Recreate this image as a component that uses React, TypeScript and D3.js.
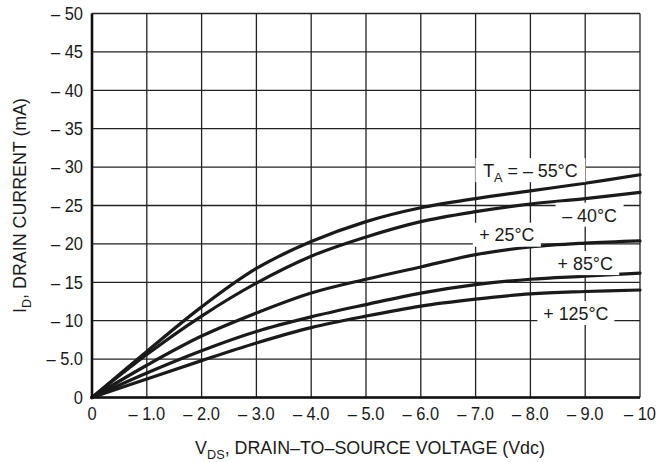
import React from 'react';
import * as d3 from 'd3';

// V_DS in volts (magnitude), I_D in mA (magnitude)
const vds = [0, 1, 2, 3, 4, 5, 6, 7, 8, 9, 10];
const idM55 = [0, 6.0, 11.8, 16.8, 20.3, 22.9, 24.7, 25.9, 26.9, 27.9, 29.0];
const idM40 = [0, 5.6, 10.6, 14.9, 18.4, 20.9, 22.9, 24.2, 25.2, 25.9, 26.7];
const idP25 = [0, 4.2, 8.0, 11.0, 13.6, 15.4, 17.0, 18.6, 19.6, 20.1, 20.4];
const idP85 = [0, 3.2, 6.1, 8.6, 10.5, 12.1, 13.6, 14.7, 15.4, 15.8, 16.2];
const idP125 = [0, 2.4, 4.8, 7.1, 9.1, 10.6, 11.9, 12.8, 13.5, 13.8, 14.0];

const series = [idM55, idM40, idP25, idP85, idP125];

const xTicks = [0, 1, 2, 3, 4, 5, 6, 7, 8, 9, 10];
const xTickLabels = ['0', '– 1.0', '– 2.0', '– 3.0', '– 4.0', '– 5.0', '– 6.0', '– 7.0', '– 8.0', '– 9.0', '– 10'];
const yTicks = [0, 5, 10, 15, 20, 25, 30, 35, 40, 45, 50];
const yTickLabels = ['0', '– 5.0', '– 10', '– 15', '– 20', '– 25', '– 30', '– 35', '– 40', '– 45', '– 50'];

// curve labels, anchored in data units (V, mA)
const labelText = ['= – 55°C', '– 40°C', '+ 25°C', '+ 85°C', '+ 125°C'];
const labelV = [8.0, 9.08, 7.57, 9.0, 8.83];
const labelI = [29.6, 23.8, 21.2, 17.5, 11.0];

const W = 660;
const H = 462;
const margin = { top: 13.5, right: 20, bottom: 64.5, left: 92 };
const FONT = '"Liberation Sans", Arial, sans-serif';
const SX = 0.94; // slightly condensed
const INK = '#1a1a1a';

// text drawn condensed around its anchor point
const T: React.FC<{ x: number; y: number; anchor?: string; size: number; rotate?: number; children: React.ReactNode }> = ({
  x, y, anchor = 'middle', size, rotate = 0, children
}) => (
  <g transform={`translate(${x},${y}) rotate(${rotate}) scale(${SX},1)`}>
    <text textAnchor={anchor} fontSize={size} fill={INK}>{children}</text>
  </g>
);

const App: React.FC = () => {
  const innerW = W - margin.left - margin.right;
  const innerH = H - margin.top - margin.bottom;

  const x = d3.scaleLinear().domain([0, 10]).range([0, innerW]);
  const y = d3.scaleLinear().domain([0, 50]).range([innerH, 0]);

  const line = d3.line<number>()
    .x((_, i) => x(vds[i]))
    .y(d => y(d))
    .curve(d3.curveCatmullRom.alpha(0.5));

  return (
    <svg width={W} height={H} style={{ position: 'absolute', left: 0, top: 0, background: 'white' }} fontFamily={FONT}>
      <g transform={`translate(${margin.left},${margin.top})`}>
        {/* grid */}
        {xTicks.map(t => (
          <line key={`gx${t}`} x1={x(t)} x2={x(t)} y1={0} y2={innerH} stroke="#222" strokeWidth={1.3} />
        ))}
        {yTicks.map(t => (
          <line key={`gy${t}`} x1={0} x2={innerW} y1={y(t)} y2={y(t)} stroke="#222" strokeWidth={1.3} />
        ))}

        {/* curves */}
        {series.map((s, i) => (
          <path key={i} d={line(s) || ''} fill="none" stroke={INK} strokeWidth={3.2} strokeLinecap="round" />
        ))}

        {/* curve labels */}
        {labelText.map((t, i) => {
          const cx = x(labelV[i]);
          const cy = y(labelI[i]);
          const isFirst = i === 0;
          const w = isFirst ? 110 : t.length * 9 + 14;
          return (
            <g key={t}>
              <rect x={cx - w / 2} y={cy - 12} width={w} height={24} fill="white" />
              <T x={cx} y={cy + 6.8} size={19}>
                {isFirst && (
                  <>
                    <tspan>T</tspan>
                    <tspan fontSize={13.5} dy={5}>A</tspan>
                    <tspan dy={-5}> </tspan>
                  </>
                )}
                {t}
              </T>
            </g>
          );
        })}

        {/* axes */}
        <line x1={0} x2={0} y1={0} y2={innerH} stroke="#111" strokeWidth={2.6} />
        <line x1={0} x2={innerW} y1={innerH} y2={innerH} stroke="#111" strokeWidth={2.6} />

        {/* tick labels */}
        {xTicks.map((t, i) => (
          <T key={`xl${t}`} x={x(t)} y={innerH + 22} size={17.5}>
            {xTickLabels[i]}
          </T>
        ))}
        {yTicks.map((t, i) => (
          <T key={`yl${t}`} x={-9} y={y(t) + 6.3} anchor="end" size={17.5}>
            {yTickLabels[i]}
          </T>
        ))}

        {/* axis titles */}
        <T x={innerW / 2 + 4} y={innerH + 56} size={19}>
          <tspan>V</tspan>
          <tspan fontSize={13.5} dy={5}>DS</tspan>
          <tspan dy={-5}>, DRAIN–TO–SOURCE VOLTAGE (Vdc)</tspan>
        </T>
        <T x={-66} y={innerH / 2} size={19} rotate={-90}>
          <tspan>I</tspan>
          <tspan fontSize={13.5} dy={5}>D</tspan>
          <tspan dy={-5}>, DRAIN CURRENT (mA)</tspan>
        </T>
      </g>
    </svg>
  );
};

export default App;
